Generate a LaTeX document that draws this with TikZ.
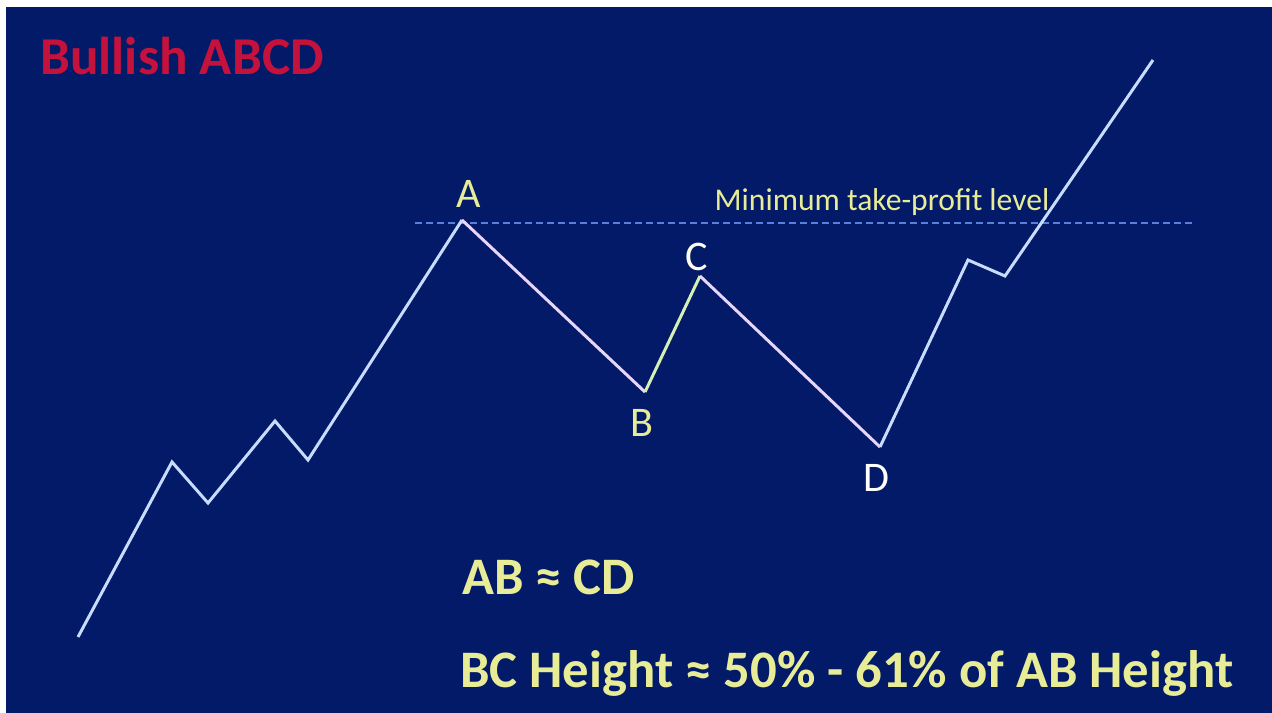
\documentclass[tikz,border=0pt]{standalone}
\usepackage{fontspec}
\setmainfont{Carlito}
\usetikzlibrary{positioning}

\definecolor{chartbg}{RGB}{2,26,104}
\definecolor{pricecol}{RGB}{200,220,255}
\definecolor{legcol}{RGB}{232,214,250}
\definecolor{bccol}{RGB}{214,240,180}
\definecolor{levelcol}{RGB}{92,128,218}
\definecolor{titlecol}{RGB}{196,18,60}
\definecolor{notecol}{RGB}{232,236,150}

\begin{document}
\begin{tikzpicture}[x=0.02cm, y=-0.02cm,
    price/.style={draw=pricecol, line width=1.7pt, line join=miter},
    leg/.style={draw=legcol},
    letter/.style={text=notecol, font=\fontsize{24}{24}\selectfont, inner sep=0pt},
    note/.style={text=notecol, font=\bfseries\fontsize{30}{30}\selectfont, inner sep=0pt, anchor=west}]
  % background
  \fill[white] (0,0) rectangle (1272,713);
  \fill[chartbg] (6,7) rectangle (1272,713);
  \useasboundingbox (0,0) rectangle (1272,713);

  % title
  \node[text=titlecol, font=\bfseries\fontsize{30.3}{30}\selectfont, inner sep=0pt, anchor=west]
    (title) at (40,56) {Bullish ABCD};

  % price swings
  \coordinate (p0) at (78,637);
  \coordinate (p1) at (172,462);
  \coordinate (p2) at (208,503);
  \coordinate (p3) at (275,421);
  \coordinate (p4) at (308,460);
  \coordinate (A) at (462,220);
  \coordinate (B) at (645,392);
  \coordinate (C) at (700,276);
  \coordinate (D) at (880,447);
  \coordinate (p5) at (968,260);
  \coordinate (p6) at (1005,276);
  \coordinate (p7) at (1153,60);

  % minimum take-profit level
  \coordinate (lvlL) at (415,223);
  \coordinate (lvlR) at (1192,223);
  \draw[levelcol, line width=1.7pt, dash pattern=on 0.14cm off 0.08cm] (lvlL) -- (lvlR);
  \node[text=notecol, font=\fontsize{18}{18}\selectfont, inner sep=0pt] (level) at (882,202)
    {Minimum take-profit level};

  \draw[price] (p0) -- (p1) -- (p2) -- (p3) -- (p4) -- (A);
  \draw[price, leg] (A) -- (B);
  \draw[price, draw=bccol] (B) -- (C);
  \draw[price, leg] (C) -- (D);
  \draw[price] (D) -- (p5) -- (p6) -- (p7);

  % swing point labels
  \node[letter, above=7pt of A, xshift=4pt] (labA) {A};
  \node[letter, below=10pt of B, xshift=-2pt] (labB) {B};
  \node[letter, above=3pt of C, xshift=-2pt, text=white!85!notecol] (labC) {C};
  \node[letter, below=10pt of D, xshift=-2pt, text=white] (labD) {D};

  % rules of the pattern
  \node[note] (ratio) at (462,577) {AB ≈ CD};
  \node[note] (height) at (460,673) {BC Height ≈ 50\% - 61\% of AB Height};
\end{tikzpicture}
\end{document}
